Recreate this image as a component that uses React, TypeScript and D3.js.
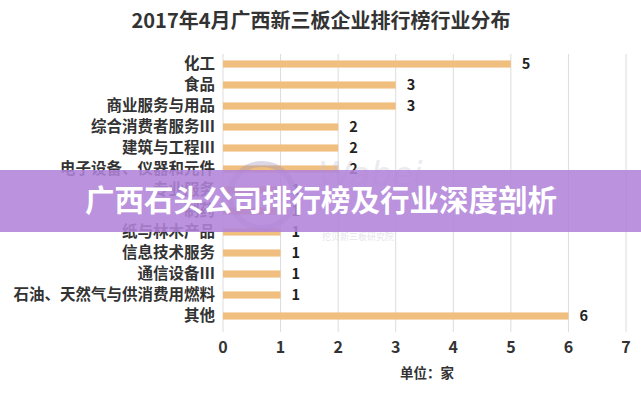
import React from "react";
import * as d3 from "d3";

const categories = [
  "化工",
  "食品",
  "商业服务与用品",
  "综合消费者服务Ⅲ",
  "建筑与工程Ⅲ",
  "电子设备、仪器和元件",
  "专业服务",
  "制药",
  "纸与林木产品",
  "信息技术服务",
  "通信设备Ⅲ",
  "石油、天然气与供消费用燃料",
  "其他",
];
const values = [5, 3, 3, 2, 2, 2, 1, 1, 1, 1, 1, 1, 6];
const xTicks = [0, 1, 2, 3, 4, 5, 6, 7];
const title = "2017年4月广西新三板企业排行榜行业分布";
const unitLabel = "单位：家";
const bannerText = "广西石头公司排行榜及行业深度剖析";

const W = 641;
const H = 400;
const FONT = "'Noto Sans CJK SC', 'Microsoft YaHei', sans-serif";

export default function App() {
  const x = d3.scaleLinear().domain([0, 7]).range([223, 626]);
  const y = d3
    .scaleBand<string>()
    .domain(categories)
    .range([53.5, 326.5])
    .paddingInner(0.66)
    .paddingOuter(0.33);
  const bw = y.bandwidth();

  return (
    <svg
      width={W}
      height={H}
      style={{ position: "absolute", left: 0, top: 0, background: "#fff" }}
      fontFamily={FONT}
    >
      <rect x={0} y={0} width={W} height={H} fill="#fff" />
      <text
        x={321}
        y={28}
        textAnchor="middle"
        fontSize={20}
        fontWeight={700}
        fill="#333"
      >
        {title}
      </text>

      {xTicks.map((t) => (
        <line
          key={"g" + t}
          x1={x(t)}
          x2={x(t)}
          y1={54}
          y2={332}
          stroke="#dcdcdc"
          strokeWidth={1}
        />
      ))}

      {categories.map((c, i) => {
        const cy = (y(c) as number) + bw / 2;
        return (
          <g key={c}>
            <rect
              x={x(0)}
              y={y(c) as number}
              width={x(values[i]) - x(0)}
              height={bw}
              fill="#f0bf80"
            />
            <text
              x={215}
              y={cy}
              dy="0.35em"
              textAnchor="end"
              fontSize={15.5}
              fontWeight={700}
              fill="#333"
            >
              {c}
            </text>
            <text
              x={x(values[i]) + 11}
              y={cy}
              dy="0.35em"
              fontSize={14.5}
              fontWeight={700}
              fill="#222"
            >
              {values[i]}
            </text>
          </g>
        );
      })}

      {xTicks.map((t) => (
        <text
          key={"t" + t}
          x={x(t)}
          y={353}
          textAnchor="middle"
          fontSize={16}
          fontWeight={700}
          fill="#333"
        >
          {t}
        </text>
      ))}
      <text
        x={427}
        y={378}
        textAnchor="middle"
        fontSize={13.5}
        fontWeight={700}
        fill="#333"
      >
        {unitLabel}
      </text>

      {/* faint watermark */}
      <g opacity={0.35}>
        <circle cx={262} cy={196} r={32} fill="none" stroke="#9a8fb8" strokeWidth={6} />
        <text
          x={318}
          y={186}
          fontSize={34}
          fontStyle="italic"
          fill="#c8c4d8"
          fontFamily="'DejaVu Sans', sans-serif"
        >
          Wabei
        </text>
        <text x={322} y={240} fontSize={9} fill="#b8b4c8">
          挖贝新三板研究院
        </text>
      </g>

      <rect x={0} y={170} width={W} height={62} fill="#b083d8" opacity={0.88} />
      <text
        x={321}
        y={201}
        dy="0.35em"
        textAnchor="middle"
        fontSize={29.5}
        fontWeight={700}
        fill="#fff"
      >
        {bannerText}
      </text>
    </svg>
  );
}
